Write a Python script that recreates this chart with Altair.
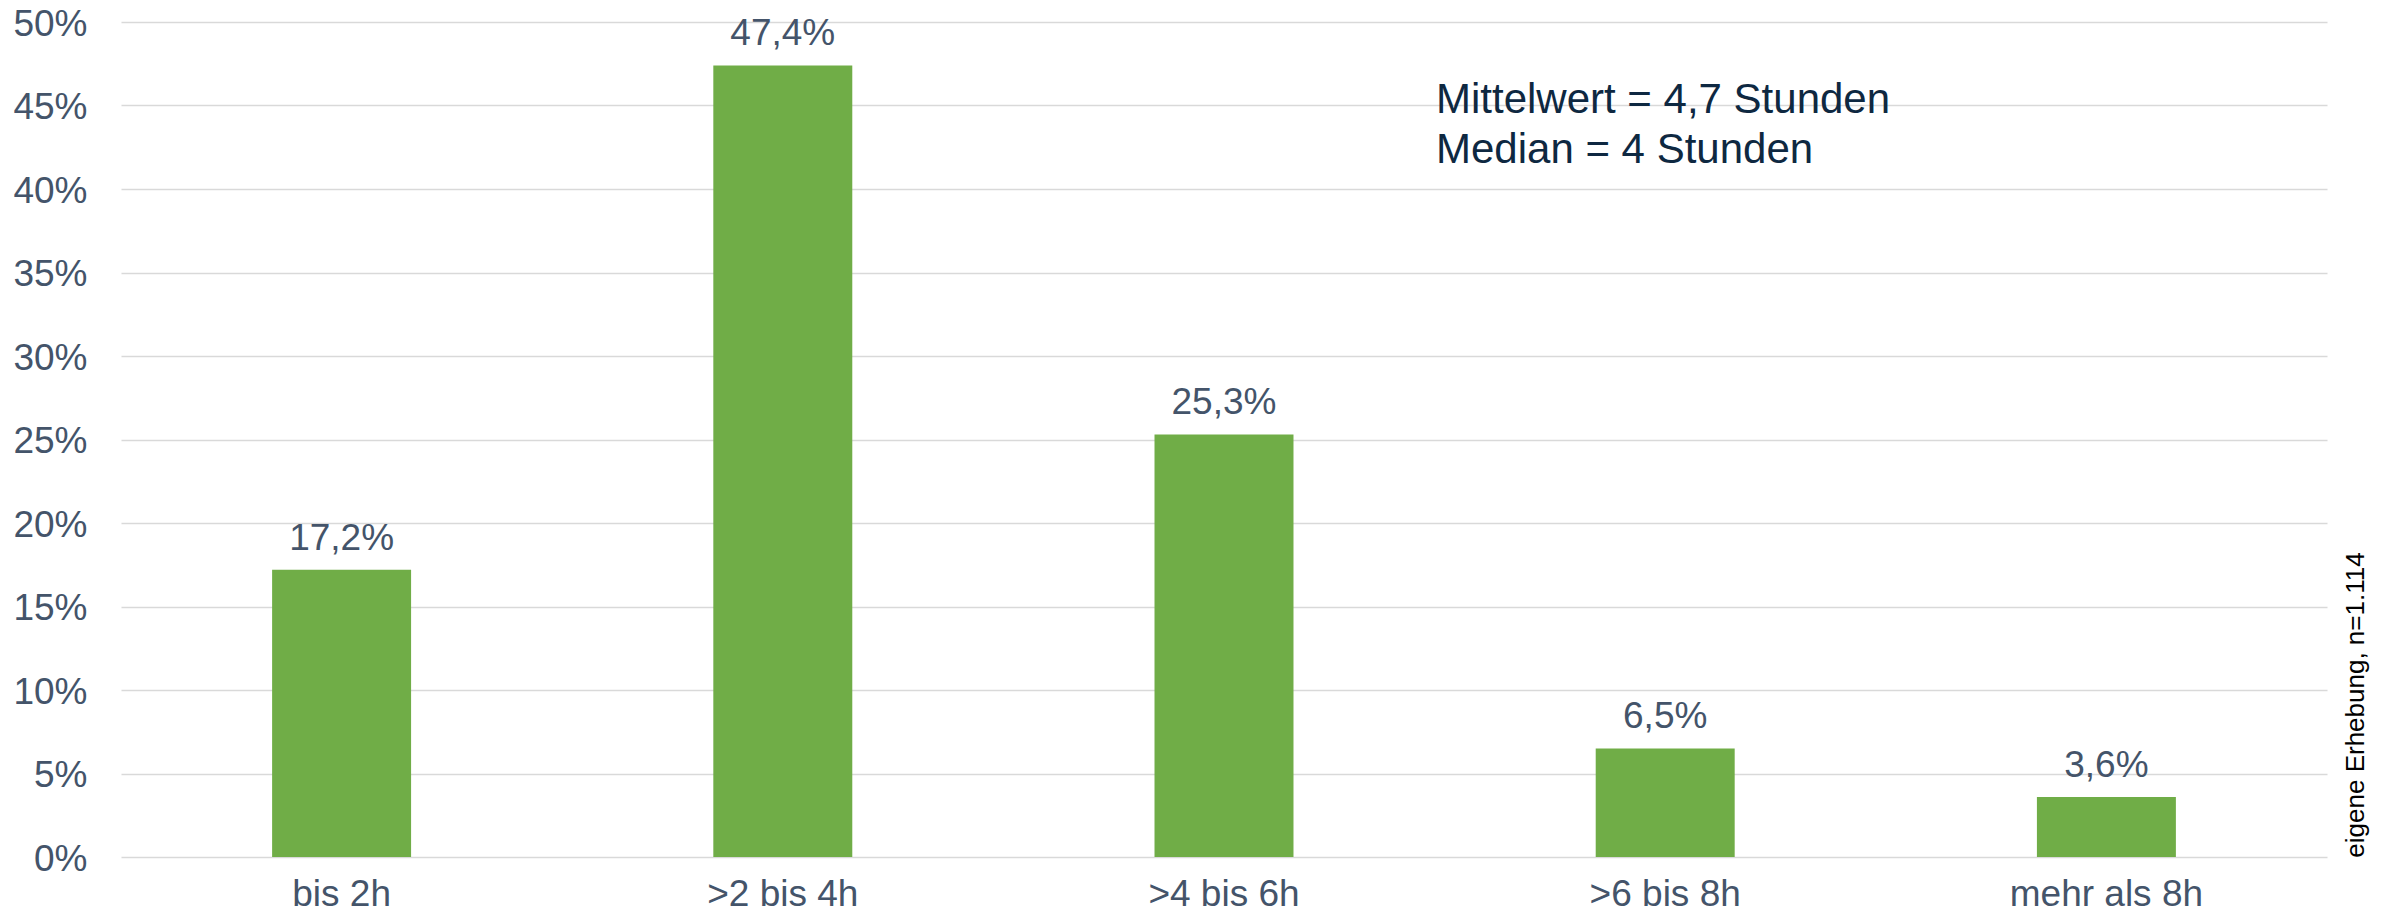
import altair as alt
import pandas as pd

categories = ["bis 2h", ">2 bis 4h", ">4 bis 6h", ">6 bis 8h", "mehr als 8h"]
values = [17.2, 47.4, 25.3, 6.5, 3.6]
y_ticks = [0, 5, 10, 15, 20, 25, 30, 35, 40, 45, 50]
note_lines = ["Mittelwert = 4,7 Stunden", "Median = 4 Stunden"]
source_text = ["eigene Erhebung, n=1.114"]

FONT = "Liberation Sans"
LABEL_COLOR = "#44546A"
BAR_COLOR = "#70AD47"
W, H = 2206, 835

df = pd.DataFrame({"cat": categories, "val": values})

x = alt.X(
    "cat:N",
    sort=categories,
    title=None,
    scale=alt.Scale(paddingInner=0.685, paddingOuter=0.3425),
    axis=alt.Axis(
        labelAngle=0, labelFont=FONT, labelFontSize=37, labelColor=LABEL_COLOR,
        labelPadding=19, labelLimit=0, ticks=False, domain=False, grid=False,
    ),
)
y = alt.Y(
    "val:Q",
    title=None,
    scale=alt.Scale(domain=[0, 50], nice=False),
    axis=alt.Axis(
        values=y_ticks, labelExpr="datum.value + '%'", labelFont=FONT,
        labelFontSize=37, labelColor=LABEL_COLOR, labelPadding=34,
        labelBaseline="alphabetic", labelOffset=13,
        ticks=False, domain=False, grid=True, gridColor="#D9D9D9",
        gridWidth=1.5,
    ),
)

bars = alt.Chart(df).mark_bar(color=BAR_COLOR).encode(x=x, y=y)

labels = alt.Chart(df).transform_calculate(
    lab="replace(format(datum.val, '.1f'), '.', ',') + '%'"
).mark_text(
    font=FONT, fontSize=37, color=LABEL_COLOR, baseline="alphabetic", dy=-20
).encode(x=alt.X("cat:N", sort=categories), y="val:Q", text="lab:N")

notes_df = pd.DataFrame({"t": note_lines, "row": [0, 1]})
notes = alt.Chart(notes_df).transform_calculate(
    py="91 + datum.row * 50"
).mark_text(
    font=FONT, fontSize=42, color="#0E2841", align="left", baseline="alphabetic"
).encode(x=alt.value(1315), y=alt.Y("py:Q", scale=None), text="t:N")

src = alt.Chart(pd.DataFrame({"t": source_text})).mark_text(
    font=FONT, fontSize=26, color="#000000", angle=270, align="center",
    baseline="alphabetic",
).encode(x=alt.value(2243), y=alt.value(683), text="t:N")

chart = alt.layer(bars, labels, notes, src).properties(
    width=W, height=H,
    autosize=alt.AutoSizeParams(type="none"),
    padding={"left": 113, "top": 14, "right": 62, "bottom": 56},
).configure_view(stroke=None)

chart.save("out.html", embed_options={"renderer": "svg", "actions": False})
